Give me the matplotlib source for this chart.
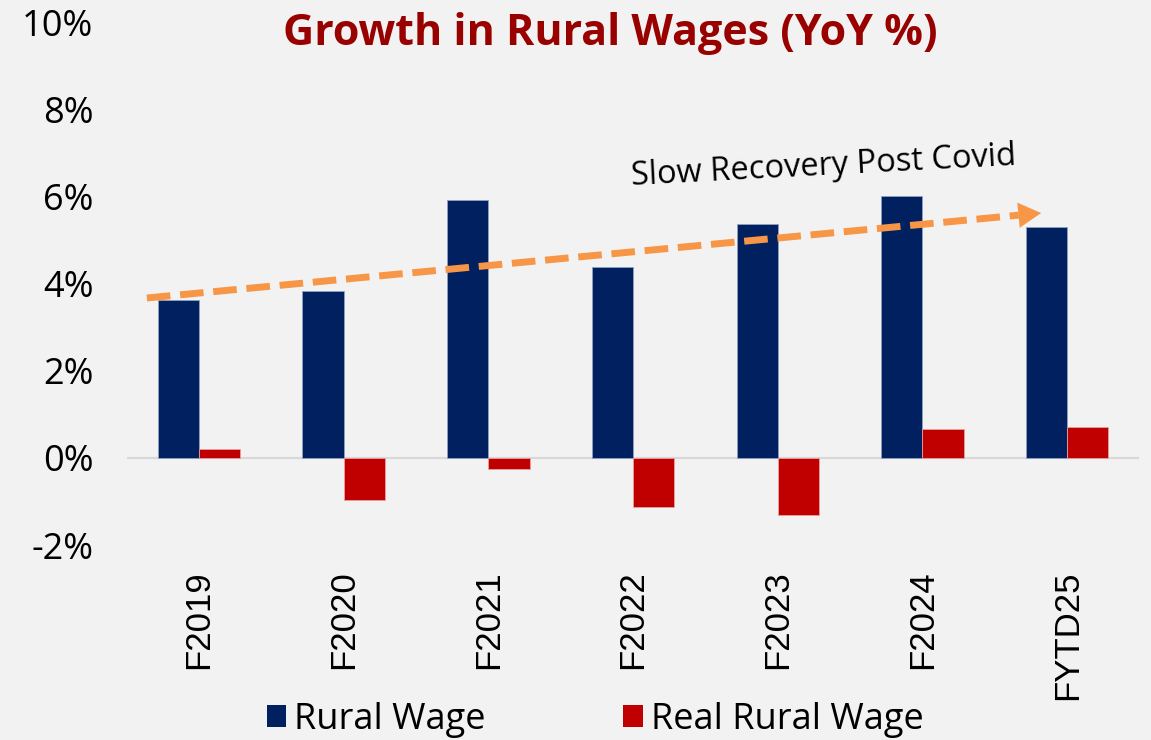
import numpy as np
import matplotlib
matplotlib.use("Agg")
import matplotlib.pyplot as plt
from matplotlib.ticker import FuncFormatter
from matplotlib.patches import Patch

plt.rcParams["axes.unicode_minus"] = False

# --- data (YoY %) ---
years = ["F2019", "F2020", "F2021", "F2022", "F2023", "F2024", "FYTD25"]
rural_wage = [3.63, 3.82, 5.93, 4.39, 5.36, 6.02, 5.31]
real_rural_wage = [0.20, -0.97, -0.25, -1.13, -1.31, 0.67, 0.71]

# trend arrow (category index, %)
trend_x = [-0.36, 5.82]
trend_y = [3.67, 5.62]
trend_label = "Slow Recovery Post Covid"

NAVY = "#002060"
RED = "#C00000"
ORANGE = "#F79646"
BG = "#F2F2F2"
SANS = "Open Sans"

fig = plt.figure(figsize=(11.51, 7.40), dpi=100, facecolor=BG)
ax = fig.add_axes([0.110, 0.2635, 0.880, 0.7065], facecolor=BG)

x = np.arange(len(years))
w = 0.285
ax.bar(x - w/2, rural_wage, w, color=NAVY, edgecolor="#8FA0C0", linewidth=0.6, zorder=2)
ax.bar(x + w/2, real_rural_wage, w, color=RED, edgecolor="#E8A0A0", linewidth=0.6, zorder=2)
ax.axhline(0, color="#D9D9D9", linewidth=1.6, zorder=1)

# dashed trend line + solid head
lx = [trend_x[0], trend_x[0] + (trend_x[1] - trend_x[0]) * 0.975]
ly = [trend_y[0], trend_y[0] + (trend_y[1] - trend_y[0]) * 0.975]
ax.plot(lx, ly, color=ORANGE, linewidth=5, dashes=(3.4, 1.4), solid_capstyle="butt",
        dash_capstyle="butt", zorder=3)
ax.annotate("", xy=(trend_x[1], trend_y[1]),
            xytext=(trend_x[1] - 0.16, trend_y[1] - 0.16 * (trend_y[1] - trend_y[0]) / (trend_x[1] - trend_x[0])),
            arrowprops=dict(arrowstyle="-|>,head_length=0.9,head_width=0.5", color=ORANGE,
                            lw=0.1, mutation_scale=18, shrinkA=0, shrinkB=0), zorder=3)
ax.text(4.32, 6.68, trend_label, rotation=3, ha="center", va="center",
        fontsize=23.5, family=SANS, color="black")

ax.set_xlim(-0.5, len(years) - 0.5)
ax.set_ylim(-2, 10)
ax.set_yticks(np.arange(-2, 11, 2))
ax.yaxis.set_major_formatter(FuncFormatter(lambda v, p: f"{v:.0f}%"))
ax.set_xticks(x)
ax.set_xticklabels(years, rotation=90, family="Liberation Sans", fontsize=25)
for lab in ax.get_yticklabels():
    lab.set_family(SANS)
    lab.set_fontsize(26)
ax.tick_params(axis="y", length=0, pad=24)
ax.tick_params(axis="x", length=0, pad=18)
for s in ax.spines.values():
    s.set_visible(False)

fig.text(0.530, 0.955, "Growth in Rural Wages (YoY %)", ha="center", va="center",
         fontsize=31, fontweight="bold", family=SANS, color="#990000")

handles = [Patch(facecolor=NAVY, label="Rural Wage"),
           Patch(facecolor=RED, label="Real Rural Wage")]
fig.legend(handles=handles, loc="center", bbox_to_anchor=(0.517, 0.027), ncol=2,
           frameon=False, prop={"family": SANS, "size": 26}, handlelength=0.55,
           handleheight=0.55, handletextpad=0.22, columnspacing=3.8)

fig.savefig("out.png", dpi=100, facecolor=BG)
